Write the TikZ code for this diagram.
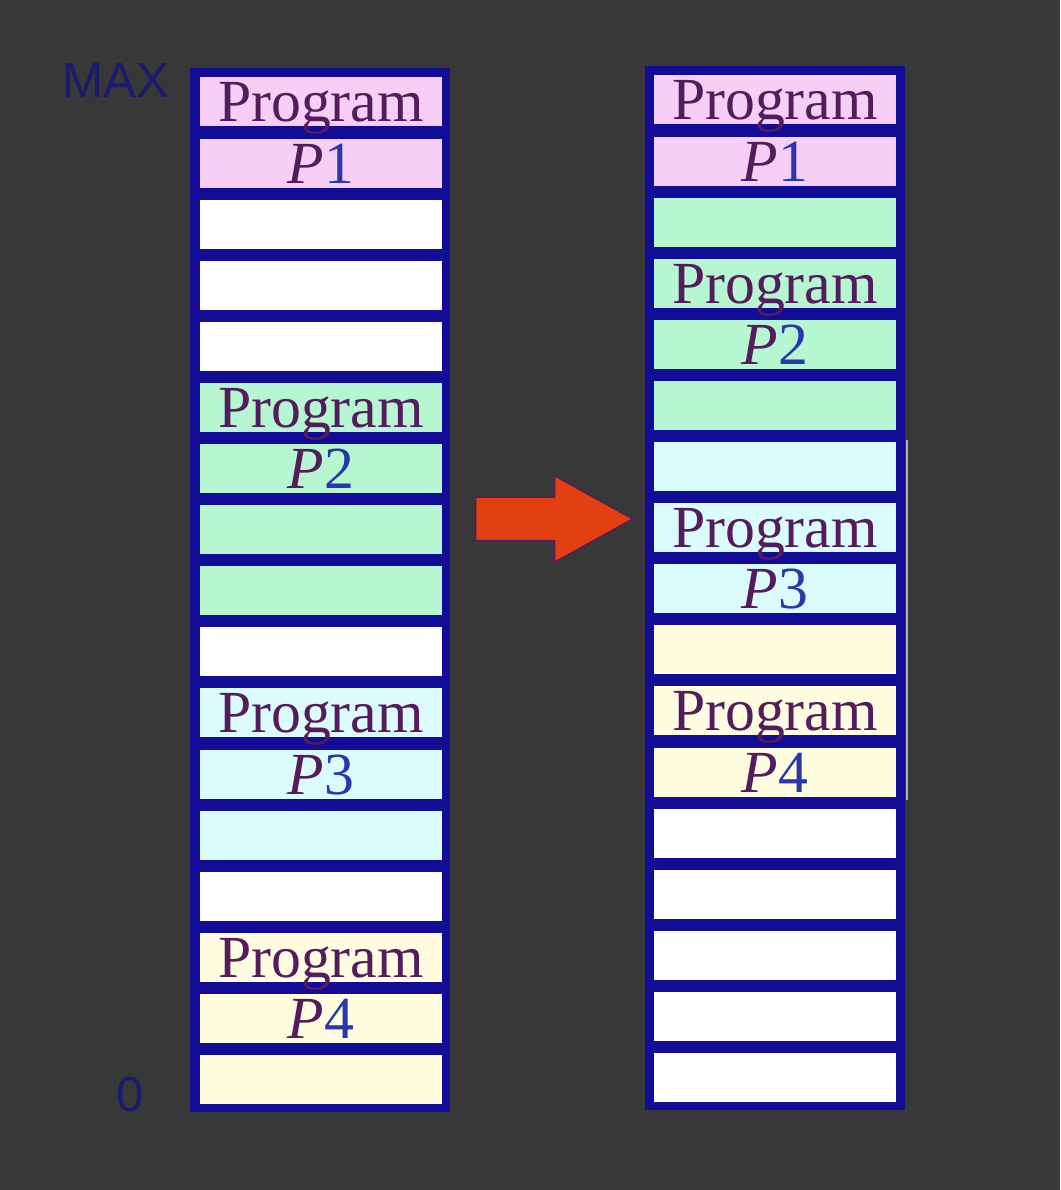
\documentclass[tikz,border=0pt]{standalone}
\usepackage{fontspec}
\setmainfont{Liberation Serif}
\newfontfamily\addrfont{Liberation Sans}
\usepackage{tikz}
\usetikzlibrary{shapes,arrows}
\definecolor{board}{RGB}{56,56,56}
\definecolor{memblue}{RGB}{18,12,150}
\definecolor{pinkcol}{RGB}{246,206,246}
\definecolor{greencol}{RGB}{182,246,208}
\definecolor{cyancol}{RGB}{218,252,252}
\definecolor{yellowcol}{RGB}{255,253,224}
\definecolor{progcol}{RGB}{84,28,92}
\definecolor{digitcol}{RGB}{40,56,170}
\definecolor{addrcol}{RGB}{26,26,112}
\definecolor{arrowcol}{RGB}{226,64,16}
\newcommand{\prog}[1]{\textit{P}{\color{digitcol}#1}}
\tikzstyle{frame} = [rectangle, fill=memblue, inner sep=0pt, minimum width=2.60cm, minimum height=10.44cm]
\tikzstyle{cell} = [rectangle, inner sep=0pt, minimum width=2.42cm, minimum height=0.49cm, text height=0.44cm, text depth=0.05cm, font=\fontsize{17}{20}\selectfont, text=progcol]
\tikzstyle{pcell} = [cell, fill=pinkcol]
\tikzstyle{gcell} = [cell, fill=greencol]
\tikzstyle{ccell} = [cell, fill=cyancol]
\tikzstyle{ycell} = [cell, fill=yellowcol]
\tikzstyle{wcell} = [cell, fill=white]
\tikzstyle{addr} = [font=\addrfont\fontsize{14}{16}\selectfont, text=addrcol, inner sep=0pt]
\tikzstyle{bigarrow} = [single arrow, draw=progcol, fill=arrowcol, inner xsep=0pt, inner ysep=0.21cm, minimum height=1.57cm, single arrow head extend=0.215cm, single arrow tip angle=58]

\begin{document}
\begin{tikzpicture}
			\fill [board] (0,0) rectangle (10.6,11.9);
			\useasboundingbox (0,0) rectangle (10.6,11.9);

			% memory before
			\node [frame] (memL) at (3.20, 6.00) {};
			\node [pcell] (l1) at (3.21, 10.88) {Program};
			\node [pcell] (l2) at (3.21, 10.26) {\prog{1}};
			\node [wcell] (l3) at (3.21, 9.65) {};
			\node [wcell] (l4) at (3.21, 9.04) {};
			\node [wcell] (l5) at (3.21, 8.43) {};
			\node [gcell] (l6) at (3.21, 7.82) {Program};
			\node [gcell] (l7) at (3.21, 7.21) {\prog{2}};
			\node [gcell] (l8) at (3.21, 6.60) {};
			\node [gcell] (l9) at (3.21, 5.99) {};
			\node [wcell] (l10) at (3.21, 5.38) {};
			\node [ccell] (l11) at (3.21, 4.77) {Program};
			\node [ccell] (l12) at (3.21, 4.15) {\prog{3}};
			\node [ccell] (l13) at (3.21, 3.54) {};
			\node [wcell] (l14) at (3.21, 2.93) {};
			\node [ycell] (l15) at (3.21, 2.32) {Program};
			\node [ycell] (l16) at (3.21, 1.71) {\prog{4}};
			\node [ycell] (l17) at (3.21, 1.10) {};

			% memory after
			\node [frame] (memR) at (7.75, 6.02) {};
			\node [pcell] (r1) at (7.75, 10.90) {Program};
			\node [pcell] (r2) at (7.75, 10.28) {\prog{1}};
			\node [gcell] (r3) at (7.75, 9.67) {};
			\node [gcell] (r4) at (7.75, 9.06) {Program};
			\node [gcell] (r5) at (7.75, 8.45) {\prog{2}};
			\node [gcell] (r6) at (7.75, 7.84) {};
			\node [ccell] (r7) at (7.75, 7.23) {};
			\node [ccell] (r8) at (7.75, 6.62) {Program};
			\node [ccell] (r9) at (7.75, 6.01) {\prog{3}};
			\node [ycell] (r10) at (7.75, 5.40) {};
			\node [ycell] (r11) at (7.75, 4.79) {Program};
			\node [ycell] (r12) at (7.75, 4.17) {\prog{4}};
			\node [wcell] (r13) at (7.75, 3.56) {};
			\node [wcell] (r14) at (7.75, 2.95) {};
			\node [wcell] (r15) at (7.75, 2.34) {};
			\node [wcell] (r16) at (7.75, 1.73) {};
			\node [wcell] (r17) at (7.75, 1.12) {};

			\node [addr] (max) at (1.16, 11.09) {MAX};
			\node [addr] (zero) at (1.30, 0.95) {0};

			\node [bigarrow] (move) at (5.345, 6.71) {};
			\draw [gray!60, line width=0.5pt] (9.07, 7.50) -- (9.07, 3.90);
		\end{tikzpicture}
\end{document}
